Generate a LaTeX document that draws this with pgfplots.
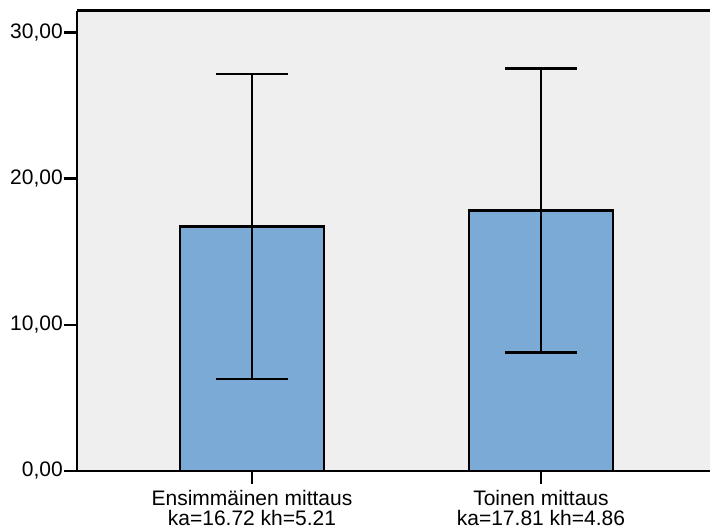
\documentclass[border=0pt]{standalone}
\usepackage{pgfplots}
\pgfplotsset{compat=1.18}
\usepackage{fontspec}
\setmainfont{Liberation Sans}
\definecolor{barblue}{HTML}{7BAAD7}
\definecolor{bggray}{HTML}{EFEFEF}
\begin{document}
\begin{tikzpicture}
\path[use as bounding box] (0,0) rectangle (710bp,-531bp);
\begin{axis}[
  at={(77bp,-10.5bp)}, anchor=north west,
  width=633bp, height=460.2bp, scale only axis,
  xmin=-0.6055, xmax=1.585, ymin=0, ymax=31.5,
  axis x line*=bottom, axis y line*=left,
  axis line style={line width=2.2bp, black},
  axis background/.style={fill=bggray},
  clip=false,
  xtick={0,1},
  xticklabels={{Ensimmäinen mittaus\\ka=16.72 kh=5.21},{Toinen mittaus\\ka=17.81 kh=4.86}},
  ytick={0,10,20,30},
  minor tick num=0,
  tick align=outside,
  major tick length=13bp,
  tick style={black, line width=2.2bp},
  tick label style={font=\fontsize{21bp}{20bp}\selectfont, inner sep=1bp},
  xticklabel style={align=center, yshift=-5bp},
  yticklabel style={/pgf/number format/.cd, fixed, fixed zerofill, precision=2, use comma, assume math mode=true},
]
\addplot[ybar, bar width=0.498, fill=barblue, draw=black, line width=2.2bp] coordinates {(0,16.72) (1,17.81)};
\addplot[draw=none, mark=none, forget plot,
  error bars/.cd, y dir=both, y explicit,
  error bar style={line width=2.2bp, black},
  error mark options={rotate=90, mark size=36bp, line width=2.2bp, black}]
  coordinates {(0,16.72) +- (0,10.42) (1,17.81) +- (0,9.72)};
\draw[line width=2.2bp, black] (rel axis cs:0,1) -- (rel axis cs:1,1);
\end{axis}
\end{tikzpicture}
\end{document}
